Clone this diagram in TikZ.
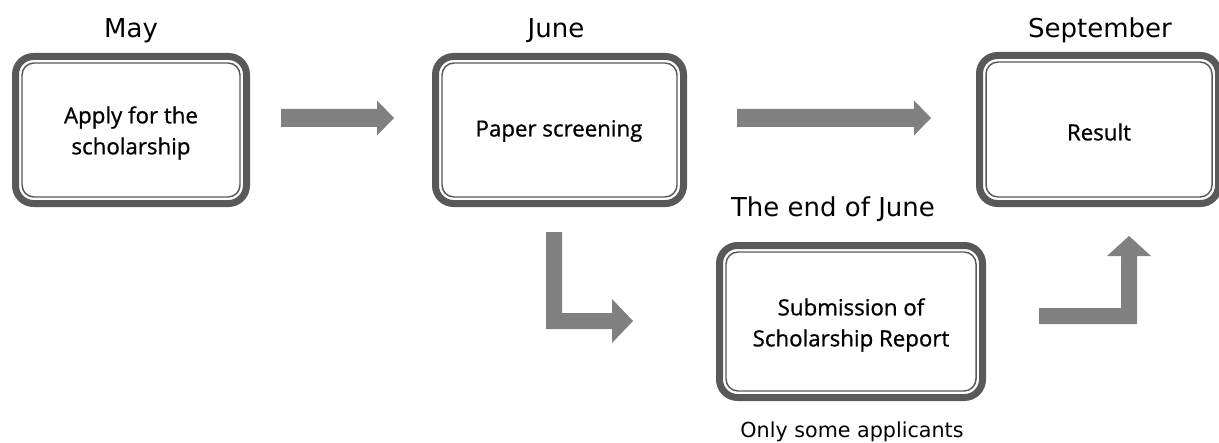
\documentclass[tikz,border=0pt]{standalone}
\usepackage{fontspec}
\setmainfont{Open Sans}
\newfontfamily\boxfont[FakeBold=0.9]{Open Sans}
\newfontfamily\labelfont{DejaVu Sans}
\definecolor{ringgray}{HTML}{595959}
\definecolor{arrowgray}{HTML}{808080}
\newcommand\drawringbox[4]{%
  \draw[ringline] (#1+3.5,#2+3.5) rectangle (#3-3.5,#4-3.5);
  \draw[innerline] (#1+10,#2+10) rectangle (#3-10,#4-10);}
\begin{document}
\begin{tikzpicture}[x=0.75pt,y=-0.75pt,
  ringline/.style={draw=ringgray,line width=5.25pt,rounded corners=13.5pt},
  innerline/.style={draw=ringgray,line width=1.1pt,rounded corners=9pt},
  boxtext/.style={align=center,inner sep=0pt,font=\boxfont\fontsize{16.7}{23.25}\selectfont,text=black},
  toplabel/.style={anchor=base,inner sep=0pt,font=\labelfont\fontsize{19.5}{23}\selectfont},
  notelabel/.style={anchor=base,inner sep=0pt,font=\labelfont\fontsize{15.5}{19}\selectfont},
  blockarrow/.style={fill=arrowgray,draw=none}]
\useasboundingbox (0,0) rectangle (1219,442);
\fill[white] (0,0) rectangle (1219,442);
% boxes
\drawringbox{12}{53}{250}{207}
\drawringbox{432}{53}{687}{207}
\drawringbox{976}{52}{1222}{207}
\drawringbox{716}{242}{986}{401}
% box texts
\node[boxtext] (apply) at (131,133) {Apply for the\\scholarship};
\node[boxtext] (paper) at (559,131) {Paper screening};
\node[boxtext] (result) at (1099,132) {Result};
\node[boxtext] (report) at (851,325) {Submission of\\Scholarship Report};
% labels
\node[toplabel] (may) at (131,38) {May};
\node[toplabel] (june) at (556,38) {June};
\node[toplabel] (sept) at (1100,38) {September};
\node[toplabel] (endjune) at (833,216) {The end of June};
\node[notelabel] (only) at (852,437) {Only some applicants};
% block arrows
\fill[blockarrow] (281,109) -- (377,109) -- (377,100.5) -- (394,118) -- (377,135.5) -- (377,127) -- (281,127) -- cycle;
\fill[blockarrow] (737,109) -- (914,109) -- (914,100.5) -- (931,118) -- (914,135.5) -- (914,127) -- (737,127) -- cycle;
\fill[blockarrow] (546,232) -- (562,232) -- (562,313) -- (612,313) -- (612,299) -- (633,321) -- (612,343) -- (612,329) -- (546,329) -- cycle;
\fill[blockarrow] (1039,308) -- (1121,308) -- (1121,256) -- (1107,256) -- (1129,236) -- (1151,256) -- (1137,256) -- (1137,324) -- (1039,324) -- cycle;
\end{tikzpicture}
\end{document}
